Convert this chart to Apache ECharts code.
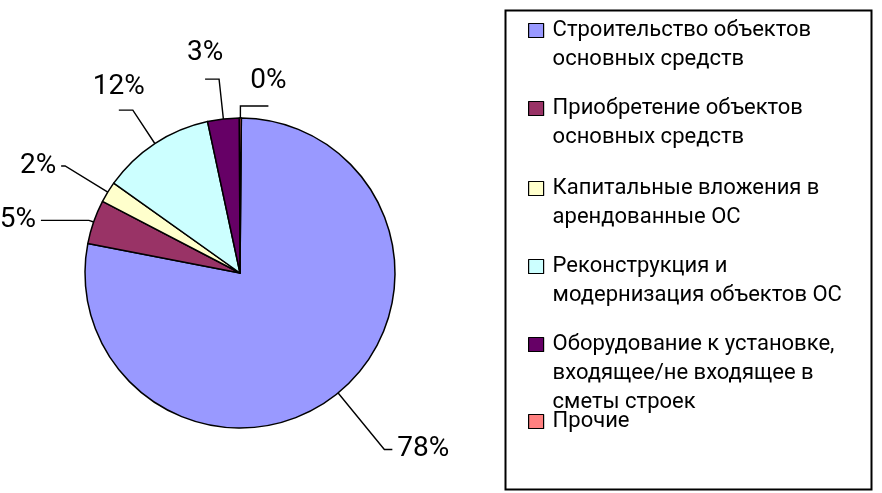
<!DOCTYPE html>
<html><head><meta charset="utf-8">
<script src="https://cdn.jsdelivr.net/npm/echarts@6/dist/echarts.min.js"></script>
<style>html,body{margin:0;padding:0;background:#fff}#c{width:882px;height:493px}</style>
</head><body><div id="c"></div>
<script>
const categories = [
  'Строительство объектов\nосновных средств',
  'Приобретение объектов\nосновных средств',
  'Капитальные вложения в\nарендованные ОС',
  'Реконструкция и\nмодернизация объектов ОС',
  'Оборудование к установке,\nвходящее/не входящее в\nсметы строек',
  'Прочие'
];
const values = [77.9, 4.6, 2.2, 11.8, 3.3, 0.2];
const colors = ['#9999FF', '#993366', '#FFFFCC', '#CCFFFF', '#660066', '#FF8080'];

// label leader-line layout (radial length, horizontal length, label placed above line end?)
const lineLen1 = [73, 5, 50, 40, 40, 12];
const lineLen2 = [8, 48, 4, 14, 14, 28];
const labelAbove = [false, false, false, true, true, true];
const labelPadBottom = [0, 0, 0, 9, 12, 11];
// legend entries: centre of first text line
const legendLineCenters = [27, 105, 185, 263, 341, 418];

const FONT = 'Roboto';
const LH = 29;
const chart = echarts.init(document.getElementById('c'), null, {renderer: 'canvas'});

const data = categories.map((name, i) => ({
  name: name,
  value: values[i],
  itemStyle: {color: colors[i]},
  labelLine: {length: lineLen1[i], length2: lineLen2[i]},
  label: labelAbove[i] ? {distanceToLabelLine: 0, padding: [0, 0, labelPadBottom[i], 0]} : {}
}));

// pad every legend text to 5 lines with its first real line in the middle,
// so that the icon lines up with the first line of text
function legendText(name) {
  const n = name.split('\n').length;
  return '\n\n' + name + '\n'.repeat(3 - n);
}

const legends = categories.map((name, i) => ({
  data: [name],
  orient: 'vertical',
  left: 528,
  top: legendLineCenters[i] - 11 - 2 * LH,
  padding: 0,
  icon: 'rect',
  itemWidth: 15,
  itemHeight: 14,
  itemStyle: {borderColor: '#000', borderWidth: 1.2},
  formatter: legendText,
  textStyle: {fontFamily: FONT, fontSize: 22, color: '#000', lineHeight: LH, padding: [0, 0, 0, 4]},
  selectedMode: false
}));

chart.setOption({
  backgroundColor: '#fff',
  animation: false,
  legend: legends,
  graphic: [{
    type: 'rect', left: 503, top: 8,
    shape: {width: 366, height: 479},
    style: {fill: 'none', stroke: '#000', lineWidth: 2}
  }],
  series: [{
    type: 'pie',
    center: [240, 273],
    radius: 155,
    startAngle: 89.5,
    clockwise: true,
    avoidLabelOverlap: false,
    percentPrecision: 0,
    itemStyle: {borderColor: '#000', borderWidth: 1.5},
    label: {
      show: true,
      formatter: '{d}%',
      fontFamily: FONT,
      fontSize: 28,
      color: '#000'
    },
    labelLine: {show: true, smooth: false, lineStyle: {color: '#000', width: 1.4}},
    labelLayout: function (p) {
      if (labelAbove[p.dataIndex]) {
        return {align: 'center', verticalAlign: 'bottom'};
      }
      return {};
    },
    emphasis: {disabled: true},
    data: data
  }]
});
</script></body></html>
